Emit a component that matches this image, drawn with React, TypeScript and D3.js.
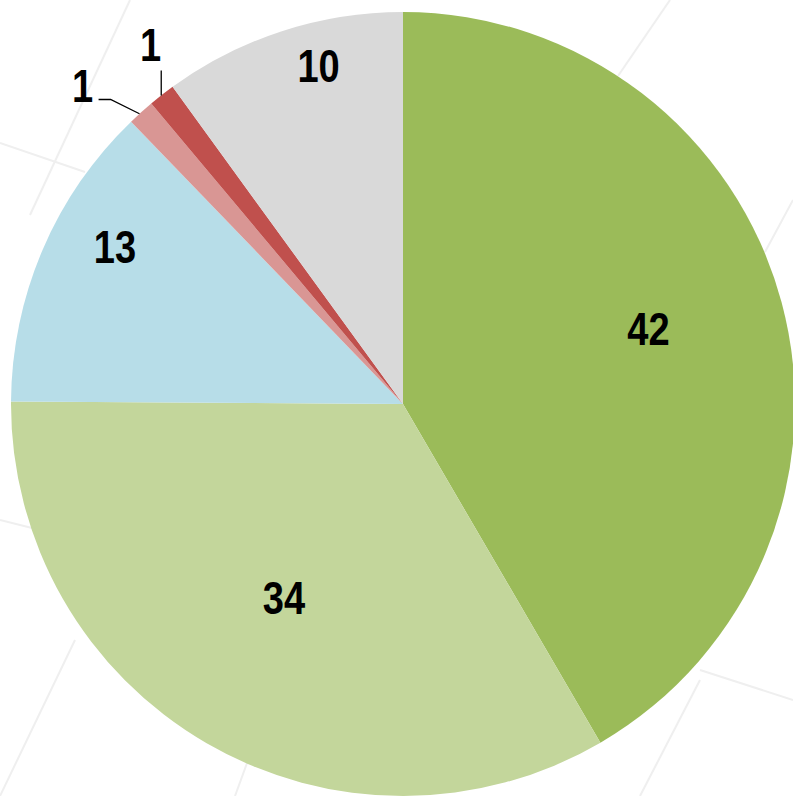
import React from "react";
import * as d3 from "d3";

const categories = ["A", "B", "C", "D", "E", "F"];
const values = [41.6, 33.5, 12.7, 1.1, 1.1, 10.0];
const colors = ["#9BBB59", "#C3D69B", "#B7DDE8", "#D99694", "#C0504D", "#D9D9D9"];

// layout for labels (radius fraction, angular offset in degrees)
const labelLayout = [
  { k: 0.655, da: -2 },
  { k: 0.58, da: 1.5 },
  { k: 0.837, da: 5.4 },
  { k: 1.153, da: -3.2 },
  { k: 1.12, da: 2.9 },
  { k: 0.89, da: 4 },
];

const W = 793;
const H = 796;
const cx = 403;
const cy = 404;
const R = 392;

const bgLines: [number, number, number, number][] = [
  [130, 0, 30, 215],
  [0, 143, 85, 172],
  [670, 0, 618, 76],
  [793, 200, 765, 252],
  [75, 640, 0, 796],
  [235, 796, 262, 722],
  [640, 796, 700, 680],
  [793, 700, 700, 670],
  [0, 520, 40, 530],
];

export default function App() {
  const pie = d3.pie<number>().value((d) => d).sort(null);
  const arcs = pie(values);
  const arc = d3.arc<d3.PieArcDatum<number>>().innerRadius(0).outerRadius(R);
  const toRad = Math.PI / 180;
  const polar = (ang: number, rr: number) => [Math.sin(ang) * rr, -Math.cos(ang) * rr];

  return (
    <svg width={W} height={H} style={{ position: "absolute", left: 0, top: 0, background: "#fff" }}>
      {bgLines.map((l, i) => (
        <line key={i} x1={l[0]} y1={l[1]} x2={l[2]} y2={l[3]} stroke="#efefef" strokeWidth={2} />
      ))}
      <g transform={`translate(${cx},${cy})`}>
        {arcs.map((a, i) => (
          <path key={categories[i]} d={arc(a) || ""} fill={colors[i]} />
        ))}
        {arcs.map((a, i) => {
          const mid = (a.startAngle + a.endAngle) / 2;
          const lay = labelLayout[i];
          const [x, y] = polar(mid + lay.da * toRad, lay.k * R);
          let leader: React.ReactNode = null;
          if (i === 3) {
            const [x0, y0] = polar(mid - 0.3 * toRad, R);
            const [x1, y1] = polar(mid - 1.9 * toRad, R * 1.077);
            leader = (
              <polyline points={`${x0},${y0} ${x1},${y1} ${x1 - 12},${y1}`} fill="none" stroke="#000" strokeWidth={1.3} />
            );
          }
          if (i === 4) {
            const [x0, y0] = polar(mid - 0.1 * toRad, R);
            leader = <line x1={x0} y1={y0} x2={x0} y2={y0 - 25} stroke="#000" strokeWidth={1.3} />;
          }
          return (
            <g key={"l" + i}>
              {leader}
              <g transform={`translate(${x},${y}) scale(0.81,1)`}>
                <text
                  x={0}
                  y={0}
                  textAnchor="middle"
                  dominantBaseline="central"
                  fontFamily="'Liberation Sans', Arial, sans-serif"
                  fontWeight="bold"
                  fontSize={47}
                  fill="#000"
                >
                  {Math.round(values[i])}
                </text>
              </g>
            </g>
          );
        })}
      </g>
    </svg>
  );
}
